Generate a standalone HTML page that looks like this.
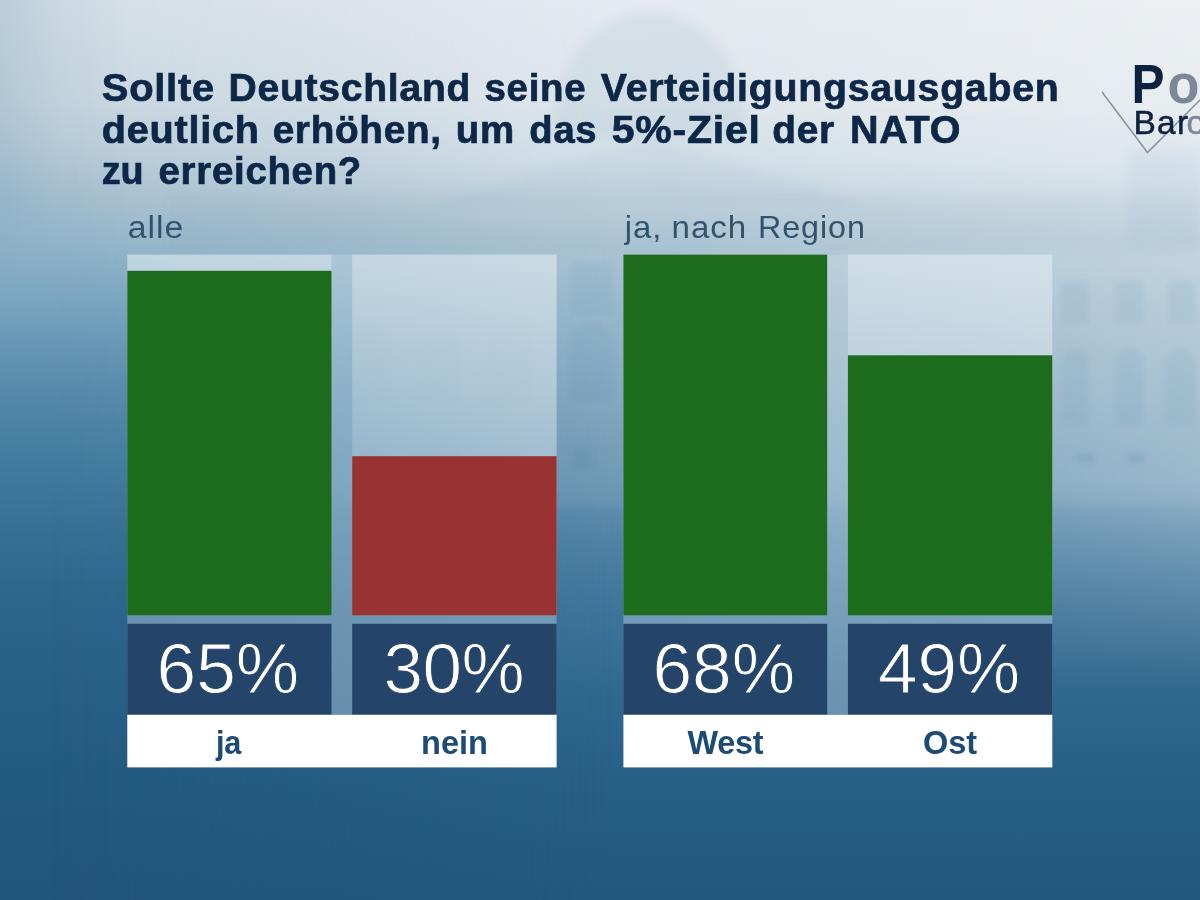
<!DOCTYPE html>
<html lang="de">
<head>
<meta charset="utf-8">
<title>Politbarometer</title>
<style>
*{margin:0;padding:0;box-sizing:border-box}
html,body{width:1200px;height:900px;overflow:hidden}
body{font-family:"Liberation Sans",sans-serif;position:relative;background:#2a628b}
.abs{position:absolute;left:0;top:0;width:1200px;height:900px}
#bgL{background:linear-gradient(to bottom,#d6e0e7 0px,#cad8e1 100px,#bccedb 150px,#a7c0d0 200px,#92b4c9 250px,#7aa6c0 300px,#6495b5 350px,#5288aa 400px,#457ea2 450px,#3c749a 500px,#346c93 550px,#2d658d 600px,#275e86 700px,#235a80 780px,#20557c 900px)}
#bgR{background:linear-gradient(to bottom,#e4eaef 0px,#dfe6eb 100px,#d2dfe7 160px,#c2d3de 200px,#abc4d3 250px,#9cb9cc 300px,#90b1c6 350px,#84a8c0 400px,#7aa0ba 440px,#709ab6 480px,#6994b2 502px,#5c8cad 510px,#5083a6 540px,#447a9f 580px,#3d7399 620px,#2f678e 700px,#275e85 790px,#22587e 900px);
 -webkit-mask-image:linear-gradient(to right,rgba(0,0,0,0) 50px,rgba(0,0,0,.05) 130px,rgba(0,0,0,.4) 340px,rgba(0,0,0,.85) 520px,#000 620px);
 mask-image:linear-gradient(to right,rgba(0,0,0,0) 50px,rgba(0,0,0,.05) 130px,rgba(0,0,0,.4) 340px,rgba(0,0,0,.85) 520px,#000 620px)}
#bgE{background:linear-gradient(to right,rgba(90,140,175,.22) 0px,rgba(90,140,175,.08) 60px,rgba(90,140,175,0) 130px);
 -webkit-mask-image:linear-gradient(to bottom,#000 0px,#000 200px,rgba(0,0,0,0) 300px);
 mask-image:linear-gradient(to bottom,#000 0px,#000 200px,rgba(0,0,0,0) 300px)}
#bgW{background:linear-gradient(to right,rgba(255,255,255,0) 650px,rgba(255,255,255,.3) 1200px);
 -webkit-mask-image:linear-gradient(to bottom,#000 0px,#000 480px,rgba(0,0,0,.6) 560px,rgba(0,0,0,0) 690px);
 mask-image:linear-gradient(to bottom,#000 0px,#000 480px,rgba(0,0,0,.6) 560px,rgba(0,0,0,0) 690px)}
svg text{font-family:"Liberation Sans",sans-serif}
.t{font-weight:bold;font-size:38px;fill:#0c2748;stroke:#0c2748;stroke-width:.7px}
.s{font-size:31px;fill:#33536d}
.n{font-size:71px;fill:#fff;stroke:#24446a;stroke-width:1.0px}
.l{font-weight:bold;font-size:32.5px;fill:#1c4b74}
</style>
</head>
<body>
<div id="bgL" class="abs"></div>
<div id="bgR" class="abs"></div>
<div id="bgE" class="abs"></div>
<div id="bgW" class="abs"></div>
<svg class="abs" width="1200" height="900" viewBox="0 0 1200 900">
<defs><filter id="bl" x="-5%" y="-5%" width="110%" height="110%"><feGaussianBlur stdDeviation="2.2"/></filter>
<filter id="bl2" x="-5%" y="-5%" width="110%" height="110%"><feGaussianBlur stdDeviation="5"/></filter></defs>
<g filter="url(#bl2)" fill="#5f8fb2">
<path d="M553 138 C553 55 598 16 650 12 C702 16 747 55 747 138 Z" opacity=".10"/>
<path d="M430 205 L650 138 L870 205 Z" opacity=".07"/>
<rect x="170" y="196" width="1030" height="54" opacity=".06"/>
<rect x="1128" y="150" width="72" height="100" opacity=".07"/>
</g>
<g filter="url(#bl)" fill="#4a80a3">
<g opacity=".08">
<rect x="572" y="262" width="40" height="52"/>
<rect x="1062" y="282" width="27" height="40"/>
<rect x="1116" y="282" width="27" height="40"/>
<rect x="1168" y="282" width="26" height="40"/>
<path d="M570 400 V345 a22 22 0 0 1 44 0 V400 Z"/>
<path d="M1062 424 V362 a13.5 13.5 0 0 1 27 0 V424 Z"/>
<path d="M1116 424 V362 a13.5 13.5 0 0 1 27 0 V424 Z"/>
<path d="M1165 424 V364 a15 15 0 0 1 30 0 V424 Z"/>
</g>
<g opacity=".16">
<rect x="573" y="447" width="20" height="22"/>
<rect x="1077" y="453" width="17" height="10"/>
<rect x="1128" y="453" width="17" height="10"/>
</g>
<g opacity=".05">
<path d="M352 400 V340 a18 18 0 0 1 36 0 V400 Z"/>
<path d="M420 402 V344 a19 19 0 0 1 38 0 V402 Z"/>
<path d="M488 404 V346 a20 20 0 0 1 40 0 V404 Z"/>
<rect x="362" y="447" width="22" height="12"/>
<rect x="432" y="447" width="24" height="12"/>
<rect x="503" y="447" width="22" height="12"/>
</g>
</g>
</svg>


<svg class="abs" width="1200" height="900" viewBox="0 0 1200 900">
<defs><linearGradient id="cg" x1="0" y1="0" x2="0" y2="1"><stop offset="0" stop-color="#fff" stop-opacity=".30"/><stop offset=".57" stop-color="#fff" stop-opacity=".15"/><stop offset="1" stop-color="#fff" stop-opacity=".15"/></linearGradient></defs>
<!-- panels -->
<rect x="127.3" y="254.6" width="429.3" height="460.2" fill="rgba(200,220,231,.39)"/>
<rect x="127.3" y="254.6" width="204.2" height="360.7" fill="url(#cg)"/>
<rect x="352.2" y="254.6" width="204.4" height="360.7" fill="url(#cg)"/>
<rect x="127.3" y="270.8" width="204.2" height="344.5" fill="#1d6b1c"/>
<rect x="352.2" y="456.2" width="204.4" height="159.1" fill="#993333"/>
<rect x="127.3" y="623.8" width="204.2" height="91.0" fill="#24446a"/>
<rect x="352.2" y="623.8" width="204.4" height="91.0" fill="#24446a"/>
<rect x="127.3" y="714.8" width="429.3" height="52.6" fill="#fff"/>
<rect x="623.4" y="254.6" width="428.9" height="460.2" fill="rgba(200,220,231,.39)"/>
<rect x="623.4" y="254.6" width="203.8" height="360.7" fill="url(#cg)"/>
<rect x="847.9" y="254.6" width="204.4" height="360.7" fill="url(#cg)"/>
<rect x="623.4" y="254.6" width="203.8" height="360.7" fill="#1d6b1c"/>
<rect x="847.9" y="355.3" width="204.4" height="260.0" fill="#1d6b1c"/>
<rect x="623.4" y="623.8" width="203.8" height="91.0" fill="#24446a"/>
<rect x="847.9" y="623.8" width="204.4" height="91.0" fill="#24446a"/>
<rect x="623.4" y="714.8" width="428.9" height="52.6" fill="#fff"/>
<!-- logo -->
<g id="logo">
<polyline points="1102,92 1147.5,152.5 1203,97" fill="none" stroke="#8a929e" stroke-width="1.5"/>
<text transform="translate(1131.5 102.5) scale(.9 1)" font-weight="bold" font-size="55" fill="#0c2240">P</text>
<text transform="translate(1167.5 102.5) scale(.95 1)" font-weight="bold" font-size="55" fill="#7c8797">o</text>
<text transform="translate(1133.5 133.7)" font-size="33.5" fill="#0c2240" stroke="#0c2240" stroke-width=".5" letter-spacing="1.2">Bar</text>
<text transform="translate(1186.5 133.7)" font-size="33.5" fill="#7c8797" stroke="#7c8797" stroke-width=".5">o</text>
</g>
<text class="t" transform="translate(101.80 101.40) scale(1.0503 1)" letter-spacing="0.70">Sollte</text>
<text class="t" transform="translate(228.59 101.40) scale(1.0289 1)" letter-spacing="0.70">Deutschland</text>
<text class="t" transform="translate(484.54 101.40) scale(1.0109 1)" letter-spacing="0.70">seine</text>
<text class="t" transform="translate(600.85 101.40) scale(1.0349 1)" letter-spacing="0.70">Verteidigungsausgaben</text>
<text class="t" transform="translate(101.81 142.60) scale(1.0437 1)" letter-spacing="0.70">deutlich</text>
<text class="t" transform="translate(272.63 142.60) scale(1.0184 1)" letter-spacing="0.70">erhöhen,</text>
<text class="t" transform="translate(455.82 142.60) scale(1.0128 1)" letter-spacing="0.70">um</text>
<text class="t" transform="translate(529.34 142.60) scale(1.0055 1)" letter-spacing="0.70">das</text>
<text class="t" transform="translate(611.77 142.60) scale(1.0794 1)" letter-spacing="0.70">5%-Ziel</text>
<text class="t" transform="translate(772.33 142.60) scale(1.0210 1)" letter-spacing="0.70">der</text>
<text class="t" transform="translate(849.97 142.60) scale(1.0400 1)" letter-spacing="0.70">NATO</text>
<text class="t" transform="translate(101.86 183.75) scale(0.9948 1)" letter-spacing="-0.30">zu</text>
<text class="t" transform="translate(158.54 183.75) scale(1.0111 1)" letter-spacing="0.70">erreichen?</text>
<text class="s" transform="translate(127.66 238.00) scale(1.0910 1)" letter-spacing="0.90">alle</text>
<text class="s" transform="translate(624.81 238.00) scale(1.0629 1)" letter-spacing="0.90">ja,</text>
<text class="s" transform="translate(671.61 238.00) scale(1.0685 1)" letter-spacing="0.90">nach</text>
<text class="s" transform="translate(757.91 238.00) scale(1.0427 1)" letter-spacing="0.90">Region</text>
<text class="n" transform="translate(156.49 692.90) scale(1.0046 1)" letter-spacing="0.00">65%</text>
<text class="n" transform="translate(383.40 692.90) scale(1.0000 1)" letter-spacing="-0.39">30%</text>
<text class="n" transform="translate(652.38 692.90) scale(1.0053 1)" letter-spacing="0.00">68%</text>
<text class="n" transform="translate(878.10 692.90) scale(1.0002 1)" letter-spacing="0.00">49%</text>
<text class="l" transform="translate(215.94 754.20) scale(0.9433 1)" letter-spacing="-0.30">ja</text>
<text class="l" transform="translate(421.10 754.20) scale(1.0000 1)" letter-spacing="-0.02">nein</text>
<text class="l" transform="translate(687.60 754.20) scale(0.9969 1)" letter-spacing="-0.30">West</text>
<text class="l" transform="translate(923.00 754.20) scale(1.0000 1)" letter-spacing="-0.03">Ost</text>

</svg>
</body>
</html>
